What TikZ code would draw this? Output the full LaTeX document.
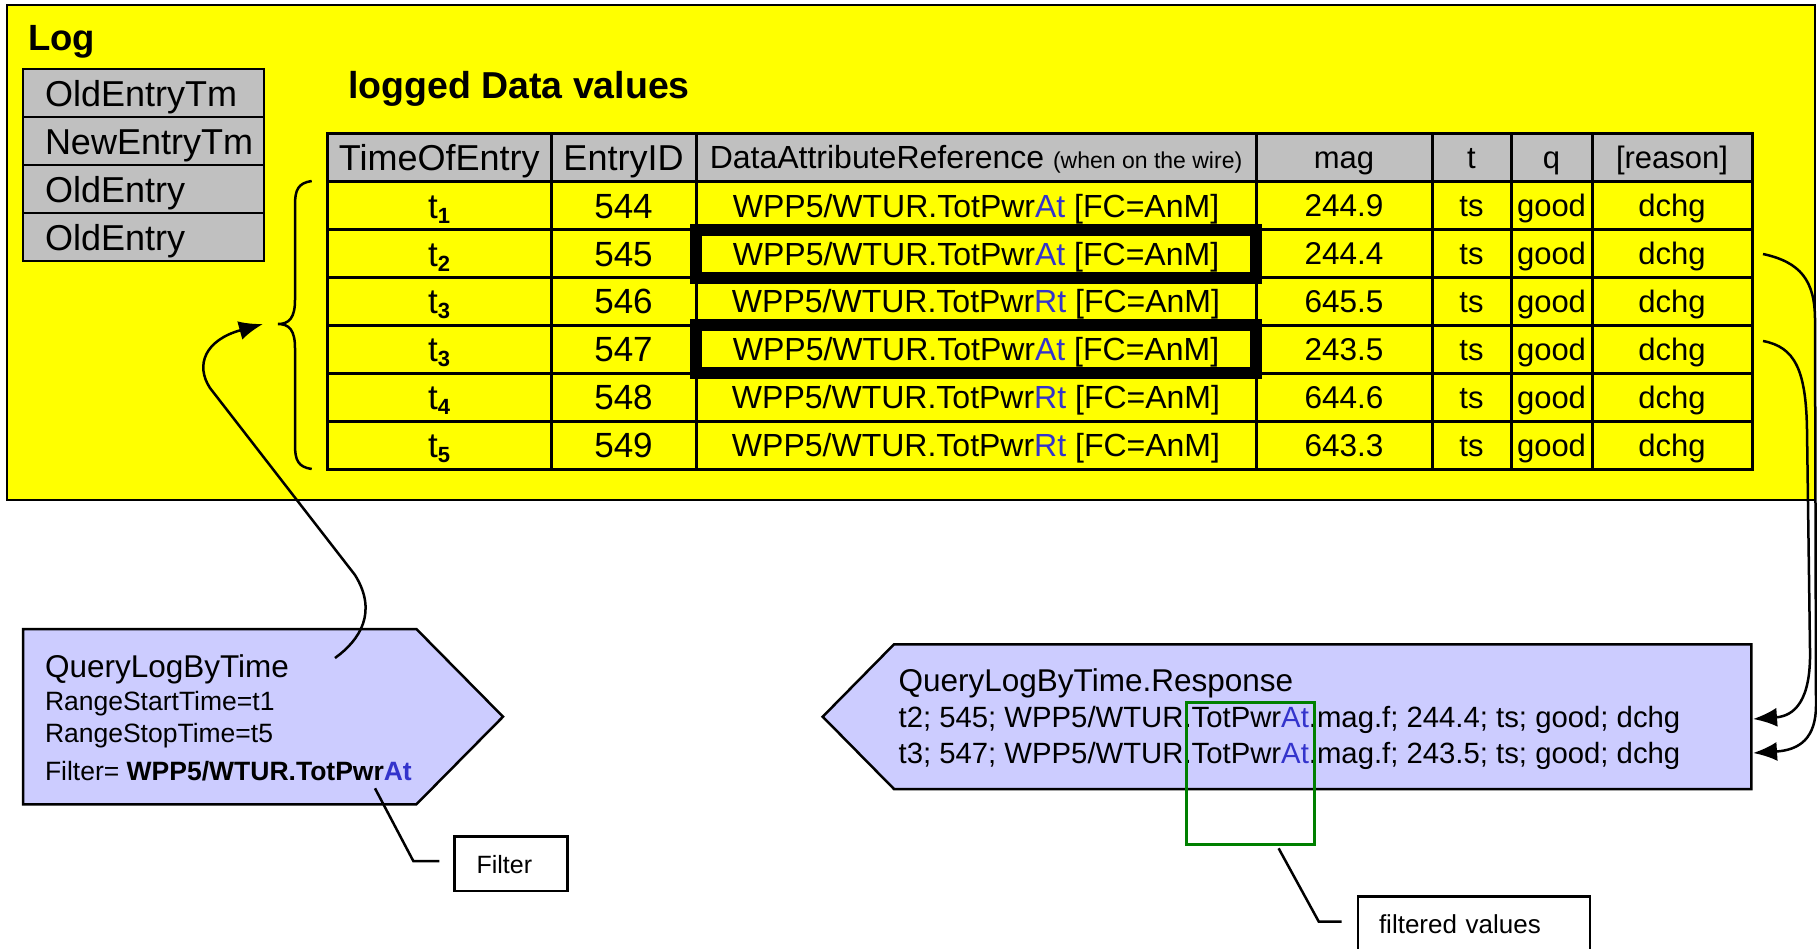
\documentclass[tikz,border=0pt]{standalone}
\usepackage{fontspec}
\setmainfont{Liberation Sans}
\usetikzlibrary{arrows.meta}
\definecolor{logyellow}{RGB}{255,255,0}
\definecolor{hdrgray}{RGB}{192,192,192}
\definecolor{lav}{RGB}{204,204,255}
\definecolor{attblue}{RGB}{51,51,204}
\definecolor{fgreen}{RGB}{0,128,0}
\newcommand{\fs}[1]{\fontsize{#1pt}{#1pt}\selectfont}
\begin{document}
\begin{tikzpicture}[x=1pt,y=-1pt,
  every node/.style={inner sep=0pt,outer sep=0pt},
  tb/.style={anchor=base},
  tl/.style={anchor=base west},
  thin2/.style={line width=2.5pt},
  conn/.style={line width=2.5pt,-{Latex[length=24pt,width=19pt]}},
  stackcell/.style={draw,line width=2.5pt,fill=hdrgray,anchor=north west,
    text width=197pt,inner xsep=22pt,inner ysep=0pt,text height=37.7pt,text depth=10.3pt,
    align=left,font={\fs{36}}},
  cbox/.style={draw,line width=2.5pt,fill=white,anchor=north west,inner ysep=0pt,align=left}
]
\useasboundingbox (0,0) rectangle (1817,948);

% outer log box
\node[draw,line width=2.5pt,fill=logyellow,anchor=north west,minimum width=1808pt,minimum height=495pt] (log) at (7,5) {};
\node[tl] (logtitle) at (28,50) {\fs{36.5}\bfseries Log};
\node[tl] (ldv) at (348,98) {\fs{37.5}\bfseries logged Data values};

% left stack
\foreach \t [count=\i] in {OldEntryTm,NewEntryTm,OldEntry,OldEntry} {
  \node[stackcell] (ls\i) at (23,{69+48*(\i-1)}) {\t};
}

% table
\fill[hdrgray] (327.3,133) rectangle (1752,181.7);
\foreach \i in {0,...,5} {
  \draw[line width=3pt] (327.3,{181.7+47.9*\i}) -- (1752,{181.7+47.9*\i});
}
\foreach \x in {551,696,1256,1432,1511,1592} {
  \draw[line width=3pt] (\x,133) -- (\x,469);
}
\draw[line width=3pt] (327.3,133) rectangle (1752,469);

\node[tb,font={\fs{36}}] (h1) at (439.2,170) {TimeOfEntry};
\node[tb,font={\fs{36}}] (h2) at (623.5,170) {EntryID};
\node[tb] (h3) at (976,168.8) {\fs{32}DataAttributeReference {\fs{23}(when on the wire)}};
\node[tb,font={\fs{31}}] (h4) at (1344,168.4) {mag};
\node[tb,font={\fs{31}}] (h5) at (1471.5,168.4) {t};
\node[tb,font={\fs{31}}] (h6) at (1551.5,168.4) {q};
\node[tb,font={\fs{31}}] (h7) at (1672,168.4) {[reason]};

\foreach \ts/\id/\suf/\mag [count=\i] in {1/544/At/244.9,2/545/At/244.4,3/546/Rt/645.5,3/547/At/243.5,4/548/Rt/644.6,5/549/Rt/643.3} {
  \pgfmathsetmacro\cy{181.7+47.9*(\i-0.5)}
  \node[tb] (t\i) at (439.2,\cy+12.5) {\fs{35}t\raisebox{-5pt}{\fs{22}\bfseries\ts}};
  \node[tb,font={\fs{35}}] (id\i) at (623.5,\cy+12.5) {\id};
  \node[tb,font={\fs{32}}] (dar\i) at (976,\cy+11.5) {WPP5/WTUR.TotPwr\textcolor{attblue}{\suf} [FC=AnM]};
  \node[tb,font={\fs{31.5}}] (mag\i) at (1344,\cy+11.3) {\mag};
  \node[tb,font={\fs{31}}] (ts\i) at (1471.5,\cy+11.1) {ts};
  \node[tb,font={\fs{31}}] (q\i) at (1551.5,\cy+11.1) {good};
  \node[tb,font={\fs{31}}] (rs\i) at (1672,\cy+11.1) {dchg};
}

% highlight boxes
\node[draw,line width=12pt,anchor=north west,minimum width=560pt,minimum height=47.9pt] (hl1) at (696,229.6) {};
\node[draw,line width=12pt,anchor=north west,minimum width=560pt,minimum height=47.9pt] (hl2) at (696,325.4) {};

% brace
\draw[thin2] (311.7,181) .. controls (298,183) and (295,190) .. (295,205) -- (295,300)
  .. controls (295,318) and (289,324) .. (278,324)
  .. controls (289,324) and (295,330) .. (295,348) -- (295,445)
  .. controls (295,460) and (298,467) .. (311.7,469);
\coordinate (bracetip) at (263,324);

% query pentagon
\draw[thin2,fill=lav] (23,629) -- (416.4,629) -- (503,716.7) -- (416.4,804.3) -- (23,804.3) -- cycle;
\node[tl,font={\fs{31.5}}] (qtitle) at (45,677.3) {QueryLogByTime};
\node[tl,font={\fs{26.5}}] (qs1) at (45,710) {RangeStartTime=t1};
\node[tl,font={\fs{26.5}}] (qs2) at (45,742.7) {RangeStopTime=t5};
\node[tl,font={\fs{26.5}}] (qs3) at (45,780) {Filter= \textbf{WPP5/WTUR.TotPwr\textcolor{attblue}{At}}};

% response pentagon
\draw[thin2,fill=lav] (822.7,716.7) -- (894,644.3) -- (1751.4,644.3) -- (1751.4,789) -- (894,789) -- cycle;
\node[tl,font={\fs{31.5}}] (rtitle) at (898.6,691.7) {QueryLogByTime.Response};
\node[tl,font={\fs{29.3}}] (rl2) at (898.6,727.3) {t2; 545; WPP5/WTUR.TotPwr\textcolor{attblue}{At}.mag.f; 244.4; ts; good; dchg};
\node[tl,font={\fs{29.3}}] (rl3) at (898.6,763.3) {t3; 547; WPP5/WTUR.TotPwr\textcolor{attblue}{At}.mag.f; 243.5; ts; good; dchg};

% green box
\node[draw=fgreen,line width=2.5pt,anchor=north west,minimum width=127.8pt,minimum height=142pt] (gbox) at (1186.5,702.3) {};

% callouts
\node[cbox,text width=68.9pt,inner xsep=22pt,text height=36.6pt,text depth=17.7pt,font={\fs{25}}] (filterbox) at (454.6,836.7) {Filter};
\coordinate (fcA) at (439.3,861);
\coordinate (fcB) at (375,788.3);
\draw[thin2] (fcA) -- (413.3,861) -- (fcB);

\node[cbox,text width=190pt,inner xsep=21pt,text height=36.3pt,text depth=43.7pt,font={\fs{26}}] (fvbox) at (1358,896.7) {filtered values};
\coordinate (fvA) at (1341.5,921.7);
\coordinate (fvB) at (1278.6,848.3);
\draw[thin2] (fvA) -- (1318.8,921.7) -- (fvB);

% connectors
\coordinate (qstart) at (335,658);
\draw[conn] (qstart) .. controls (360,640) and (378,612) .. (355,575) -- (210,388)
  .. controls (195,365) and (205,340) .. (bracetip);

\coordinate (a545) at (1763,254);
\coordinate (a547) at (1763,341);
\coordinate (r2) at (1753,719);
\coordinate (r3) at (1753,753);
\draw[conn] (a547) .. controls (1795,347) and (1806,370) .. (1807,430) -- (1810,650)
  .. controls (1811,700) and (1795,716) .. (r2);
\draw[conn] (a545) .. controls (1800,262) and (1815,280) .. (1815,320) -- (1816,705)
  .. controls (1816,738) and (1800,750) .. (r3);
\end{tikzpicture}
\end{document}
